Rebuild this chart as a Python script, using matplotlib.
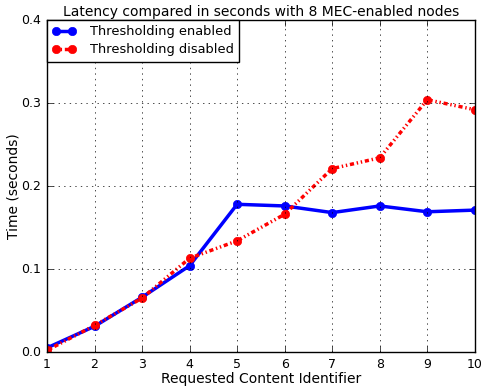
import matplotlib
matplotlib.use("Agg")
import matplotlib.pyplot as plt

# Data
content_id = [1, 2, 3, 4, 5, 6, 7, 8, 9, 10]
thr_enabled = [0.005, 0.031, 0.066, 0.104, 0.178, 0.176, 0.168, 0.176, 0.169, 0.171]
thr_disabled = [0.002, 0.032, 0.065, 0.113, 0.134, 0.166, 0.221, 0.234, 0.304, 0.292]

plt.style.use("classic")
plt.rcParams["font.family"] = "DejaVu Sans"

fig = plt.figure(figsize=(4.82, 3.89), dpi=100)
ax = fig.add_axes([0.0975, 0.095, 0.8875, 0.8535])

ax.plot(content_id, thr_enabled, color="blue", marker="o", markersize=6,
        markeredgecolor="blue", linewidth=2.5, label="Thresholding enabled")
ax.plot(content_id, thr_disabled, color="red", marker="o", markersize=6,
        markeredgecolor="red", linewidth=2.5, linestyle=(0, (1, 2, 1, 2, 3, 2)),
        label="Thresholding disabled")

ax.set_xlim(1, 10)
ax.set_ylim(0, 0.4)
ax.set_xticks(content_id)
ax.set_yticks([0.0, 0.1, 0.2, 0.3, 0.4])
ax.tick_params(labelsize=9)
ax.grid(True)

ax.set_title("Latency compared in seconds with 8 MEC-enabled nodes", fontsize=10, pad=3)
ax.set_xlabel("Requested Content Identifier", fontsize=10, labelpad=1)
ax.set_ylabel("Time (seconds)", fontsize=10, labelpad=1)
ax.legend(loc="upper left", fontsize=9.4, numpoints=2, borderaxespad=0,
          handlelength=1.8, handletextpad=1.1, labelspacing=0.4)

fig.savefig("out.png", dpi=100)
